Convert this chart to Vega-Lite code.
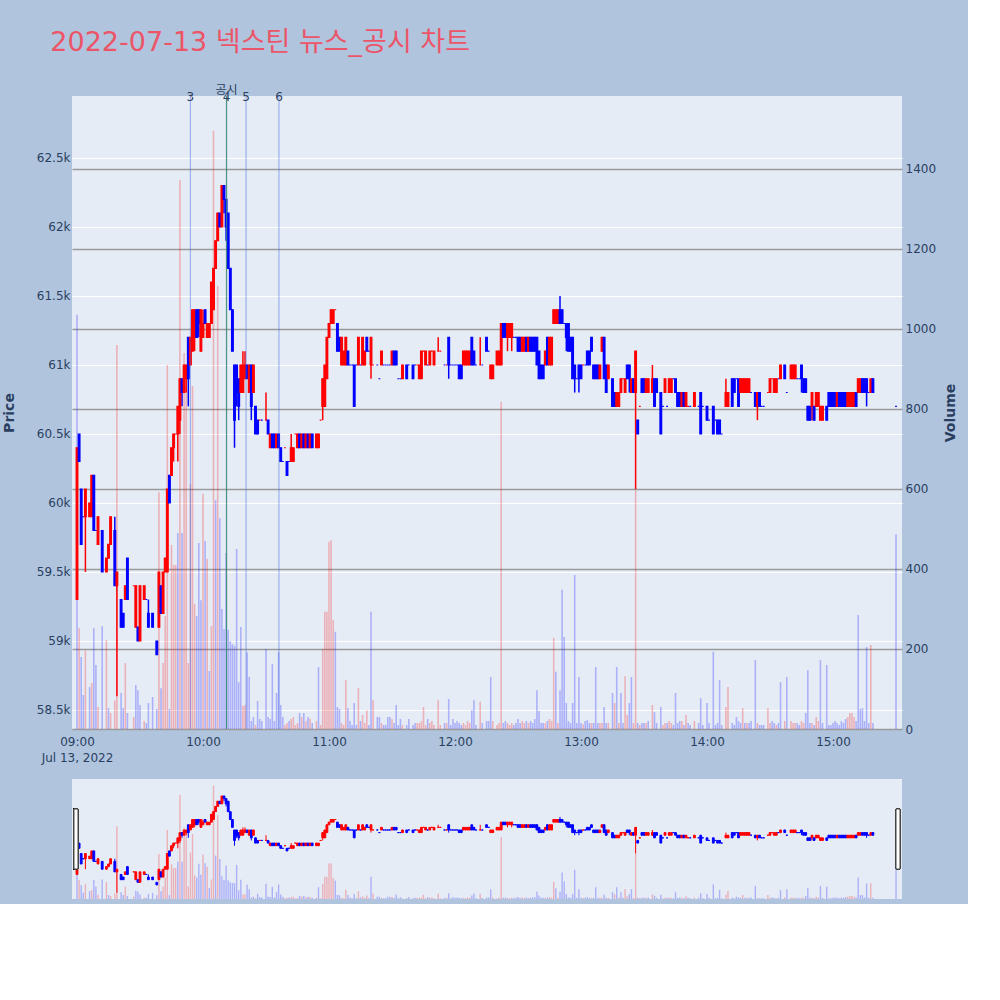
{
"$schema": "https://vega.github.io/schema/vega-lite/v6.json",
"background": "#b0c4de",
"padding": {"left": 2, "top": 29, "right": 10, "bottom": 5},
"autosize": {"type": "pad"},
"title": {"text": "2022-07-13 넥스틴 뉴스_공시 차트", "anchor": "start", "font": "DejaVu Sans, Noto Sans CJK KR", "fontSize": 27, "fontWeight": "normal", "color": "#ec5468", "offset": 27, "dx": 48},
"config": {"view": {"stroke": null, "fill": "#e5ecf6"}, "font": "DejaVu Sans"},
"datasets": {"c": [
{"t":"2022-07-13T09:00","o":59300,"h":60400,"l":59300,"c":60400,"v":1035,"vd":"d"},
{"t":"2022-07-13T09:01","o":60500,"h":60500,"l":60300,"c":60300,"v":252,"vd":"u"},
{"t":"2022-07-13T09:02","o":60100,"h":60100,"l":59700,"c":59700,"v":180},
{"t":"2022-07-13T09:03","o":59900,"h":59900,"l":59900,"c":59900,"v":85,"d":"d"},
{"t":"2022-07-13T09:04","o":59900,"h":60100,"l":59500,"c":60100,"v":197},
{"t":"2022-07-13T09:06","o":59900,"h":60000,"l":59900,"c":60000,"v":105,"vd":"d"},
{"t":"2022-07-13T09:07","o":59900,"h":60200,"l":59900,"c":60200,"v":115},
{"t":"2022-07-13T09:08","o":60200,"h":60200,"l":59800,"c":59800,"v":252},
{"t":"2022-07-13T09:09","o":59800,"h":59800,"l":59800,"c":59800,"v":160,"d":"d"},
{"t":"2022-07-13T09:10","o":59700,"h":59900,"l":59700,"c":59900,"v":55},
{"t":"2022-07-13T09:12","o":59800,"h":59800,"l":59500,"c":59500,"v":257},
{"t":"2022-07-13T09:14","o":59500,"h":59600,"l":59500,"c":59600,"v":222},
{"t":"2022-07-13T09:15","o":59600,"h":59700,"l":59600,"c":59700,"v":52,"vd":"d"},
{"t":"2022-07-13T09:16","o":59700,"h":59900,"l":59700,"c":59900,"v":40},
{"t":"2022-07-13T09:18","o":59800,"h":59900,"l":59400,"c":59400,"v":72,"vd":"u"},
{"t":"2022-07-13T09:19","o":59400,"h":59500,"l":58600,"c":59500,"v":960},
{"t":"2022-07-13T09:21","o":59300,"h":59300,"l":59100,"c":59100,"v":90},
{"t":"2022-07-13T09:22","o":59200,"h":59200,"l":59100,"c":59100,"v":52},
{"t":"2022-07-13T09:23","o":59300,"h":59400,"l":59300,"c":59400,"v":165},
{"t":"2022-07-13T09:24","o":59600,"h":59600,"l":59300,"c":59300,"v":40},
{"t":"2022-07-13T09:27","o":59400,"h":59400,"l":59400,"c":59400,"v":30,"d":"u"},
{"t":"2022-07-13T09:28","o":59100,"h":59400,"l":59100,"c":59400,"v":110,"vd":"d"},
{"t":"2022-07-13T09:29","o":59100,"h":59100,"l":59000,"c":59000,"v":97},
{"t":"2022-07-13T09:30","o":59000,"h":59400,"l":59000,"c":59400,"v":60,"vd":"d"},
{"t":"2022-07-13T09:32","o":59300,"h":59400,"l":59300,"c":59400,"v":20},
{"t":"2022-07-13T09:33","o":59300,"h":59300,"l":59300,"c":59300,"v":15,"d":"d"},
{"t":"2022-07-13T09:34","o":59200,"h":59300,"l":59100,"c":59100,"v":65},
{"t":"2022-07-13T09:36","o":59200,"h":59200,"l":59100,"c":59100,"v":80},
{"t":"2022-07-13T09:38","o":59000,"h":59000,"l":58900,"c":58900,"v":50},
{"t":"2022-07-13T09:39","o":59100,"h":59500,"l":59100,"c":59500,"v":592},
{"t":"2022-07-13T09:40","o":59400,"h":59400,"l":59200,"c":59200,"v":102},
{"t":"2022-07-13T09:41","o":59200,"h":59500,"l":59200,"c":59500,"v":165},
{"t":"2022-07-13T09:42","o":59500,"h":59600,"l":59500,"c":59600,"v":282},
{"t":"2022-07-13T09:43","o":59500,"h":60100,"l":59500,"c":60100,"v":910},
{"t":"2022-07-13T09:44","o":60200,"h":60200,"l":60000,"c":60000,"v":50},
{"t":"2022-07-13T09:45","o":60200,"h":60400,"l":60200,"c":60400,"v":460},
{"t":"2022-07-13T09:46","o":60400,"h":60500,"l":60300,"c":60500,"v":410},
{"t":"2022-07-13T09:47","o":60500,"h":60500,"l":60500,"c":60500,"v":410,"d":"u"},
{"t":"2022-07-13T09:48","o":60500,"h":60700,"l":60300,"c":60700,"v":490,"vd":"d"},
{"t":"2022-07-13T09:49","o":60600,"h":60900,"l":60500,"c":60900,"v":1372},
{"t":"2022-07-13T09:50","o":60900,"h":60900,"l":60700,"c":60800,"v":490},
{"t":"2022-07-13T09:51","o":60800,"h":61000,"l":60800,"c":61000,"v":940},
{"t":"2022-07-13T09:52","o":60900,"h":61000,"l":60800,"c":61000,"v":857},
{"t":"2022-07-13T09:53","o":61200,"h":61200,"l":60700,"c":60900,"v":165,"vd":"u"},
{"t":"2022-07-13T09:54","o":61000,"h":61200,"l":61000,"c":61200,"v":612},
{"t":"2022-07-13T09:55","o":61100,"h":61400,"l":61100,"c":61400,"v":857},
{"t":"2022-07-13T09:56","o":61200,"h":61400,"l":61100,"c":61400,"v":312},
{"t":"2022-07-13T09:57","o":61400,"h":61400,"l":61200,"c":61200,"v":282},
{"t":"2022-07-13T09:58","o":61400,"h":61400,"l":61200,"c":61300,"v":465},
{"t":"2022-07-13T09:59","o":61100,"h":61400,"l":61100,"c":61400,"v":322,"vd":"d"},
{"t":"2022-07-13T10:00","o":61200,"h":61400,"l":61200,"c":61300,"v":588},
{"t":"2022-07-13T10:01","o":61400,"h":61400,"l":61300,"c":61300,"v":470},
{"t":"2022-07-13T10:02","o":61200,"h":61300,"l":61200,"c":61300,"v":425},
{"t":"2022-07-13T10:03","o":61200,"h":61300,"l":61200,"c":61300,"v":145,"vd":"d"},
{"t":"2022-07-13T10:04","o":61300,"h":61600,"l":61300,"c":61600,"v":257},
{"t":"2022-07-13T10:05","o":61400,"h":61700,"l":61400,"c":61700,"v":1495},
{"t":"2022-07-13T10:06","o":61700,"h":61900,"l":61700,"c":61900,"v":572,"vd":"d"},
{"t":"2022-07-13T10:07","o":61900,"h":62100,"l":61900,"c":62100,"v":1107},
{"t":"2022-07-13T10:08","o":62100,"h":62100,"l":62000,"c":62000,"v":527},
{"t":"2022-07-13T10:09","o":62000,"h":62300,"l":62000,"c":62300,"v":300,"vd":"d"},
{"t":"2022-07-13T10:10","o":62300,"h":62300,"l":62100,"c":62200,"v":250},
{"t":"2022-07-13T10:11","o":62200,"h":62200,"l":61900,"c":62000,"v":440},
{"t":"2022-07-13T10:12","o":62100,"h":62100,"l":61700,"c":61700,"v":248},
{"t":"2022-07-13T10:13","o":61700,"h":61700,"l":61400,"c":61400,"v":220},
{"t":"2022-07-13T10:14","o":61400,"h":61400,"l":61100,"c":61100,"v":212},
{"t":"2022-07-13T10:15","o":61000,"h":61000,"l":60400,"c":60600,"v":208},
{"t":"2022-07-13T10:16","o":61000,"h":61000,"l":60700,"c":60800,"v":450},
{"t":"2022-07-13T10:17","o":60900,"h":60900,"l":60600,"c":60700,"v":117},
{"t":"2022-07-13T10:18","o":60800,"h":61000,"l":60800,"c":61000,"v":255,"vd":"d"},
{"t":"2022-07-13T10:19","o":60800,"h":61100,"l":60800,"c":61000,"v":58},
{"t":"2022-07-13T10:20","o":60900,"h":61100,"l":60900,"c":61000,"v":60},
{"t":"2022-07-13T10:21","o":61000,"h":61000,"l":60900,"c":60900,"v":192},
{"t":"2022-07-13T10:22","o":60800,"h":61000,"l":60800,"c":61000,"v":130,"vd":"d"},
{"t":"2022-07-13T10:23","o":61000,"h":61000,"l":60600,"c":60700,"v":20},
{"t":"2022-07-13T10:24","o":60800,"h":61000,"l":60800,"c":61000,"v":30,"vd":"d"},
{"t":"2022-07-13T10:25","o":60700,"h":60700,"l":60500,"c":60500,"v":10,"vd":"u"},
{"t":"2022-07-13T10:26","o":60600,"h":60600,"l":60500,"c":60500,"v":70},
{"t":"2022-07-13T10:27","o":60600,"h":60600,"l":60600,"c":60600,"v":25,"d":"u","vd":"d"},
{"t":"2022-07-13T10:28","o":60600,"h":60600,"l":60600,"c":60600,"v":20,"d":"d"},
{"t":"2022-07-13T10:30","o":60600,"h":60800,"l":60600,"c":60600,"v":200,"d":"u","vd":"d"},
{"t":"2022-07-13T10:31","o":60600,"h":60600,"l":60500,"c":60500,"v":30},
{"t":"2022-07-13T10:32","o":60400,"h":60500,"l":60400,"c":60500,"v":25,"vd":"d"},
{"t":"2022-07-13T10:33","o":60500,"h":60500,"l":60400,"c":60400,"v":162},
{"t":"2022-07-13T10:34","o":60500,"h":60500,"l":60400,"c":60400,"v":20},
{"t":"2022-07-13T10:35","o":60400,"h":60500,"l":60400,"c":60500,"v":90,"vd":"d"},
{"t":"2022-07-13T10:36","o":60500,"h":60500,"l":60400,"c":60400,"v":192},
{"t":"2022-07-13T10:37","o":60400,"h":60400,"l":60300,"c":60300,"v":60},
{"t":"2022-07-13T10:38","o":60300,"h":60300,"l":60300,"c":60300,"v":30,"d":"d"},
{"t":"2022-07-13T10:39","o":60400,"h":60400,"l":60400,"c":60400,"v":10,"d":"u"},
{"t":"2022-07-13T10:40","o":60300,"h":60300,"l":60200,"c":60200,"v":15,"vd":"u"},
{"t":"2022-07-13T10:41","o":60300,"h":60300,"l":60300,"c":60300,"v":20,"d":"d"},
{"t":"2022-07-13T10:42","o":60300,"h":60500,"l":60300,"c":60400,"v":25},
{"t":"2022-07-13T10:43","o":60300,"h":60400,"l":60300,"c":60400,"v":30},
{"t":"2022-07-13T10:44","o":60500,"h":60500,"l":60500,"c":60500,"v":10,"d":"u"},
{"t":"2022-07-13T10:45","o":60400,"h":60500,"l":60400,"c":60500,"v":15},
{"t":"2022-07-13T10:46","o":60500,"h":60500,"l":60400,"c":60400,"v":40},
{"t":"2022-07-13T10:47","o":60400,"h":60500,"l":60400,"c":60500,"v":30},
{"t":"2022-07-13T10:48","o":60500,"h":60500,"l":60400,"c":60400,"v":40},
{"t":"2022-07-13T10:49","o":60400,"h":60500,"l":60400,"c":60500,"v":20},
{"t":"2022-07-13T10:50","o":60500,"h":60500,"l":60400,"c":60400,"v":30},
{"t":"2022-07-13T10:51","o":60400,"h":60500,"l":60400,"c":60500,"v":25},
{"t":"2022-07-13T10:52","o":60500,"h":60500,"l":60400,"c":60400,"v":15},
{"t":"2022-07-13T10:54","o":60400,"h":60500,"l":60400,"c":60500,"v":20},
{"t":"2022-07-13T10:55","o":60400,"h":60500,"l":60400,"c":60500,"v":155,"vd":"d"},
{"t":"2022-07-13T10:56","o":60600,"h":60600,"l":60600,"c":60600,"v":10,"d":"u"},
{"t":"2022-07-13T10:57","o":60700,"h":60900,"l":60600,"c":60900,"v":200},
{"t":"2022-07-13T10:58","o":60700,"h":61000,"l":60700,"c":61000,"v":293},
{"t":"2022-07-13T10:59","o":60900,"h":61200,"l":60900,"c":61200,"v":293},
{"t":"2022-07-13T11:00","o":61200,"h":61300,"l":61200,"c":61300,"v":468},
{"t":"2022-07-13T11:01","o":61300,"h":61400,"l":61300,"c":61400,"v":472},
{"t":"2022-07-13T11:02","o":61300,"h":61400,"l":61300,"c":61400,"v":272},
{"t":"2022-07-13T11:03","o":61400,"h":61400,"l":61400,"c":61400,"v":243,"d":"u","vd":"d"},
{"t":"2022-07-13T11:04","o":61300,"h":61300,"l":61100,"c":61100,"v":55},
{"t":"2022-07-13T11:05","o":61200,"h":61200,"l":61100,"c":61100,"v":50},
{"t":"2022-07-13T11:06","o":61000,"h":61200,"l":61000,"c":61200,"v":15},
{"t":"2022-07-13T11:07","o":61000,"h":61100,"l":61000,"c":61100,"v":10},
{"t":"2022-07-13T11:08","o":61000,"h":61200,"l":61000,"c":61200,"v":122},
{"t":"2022-07-13T11:09","o":61100,"h":61100,"l":61000,"c":61000,"v":52},
{"t":"2022-07-13T11:10","o":61000,"h":61000,"l":61000,"c":61000,"v":20,"d":"d"},
{"t":"2022-07-13T11:11","o":61000,"h":61000,"l":61000,"c":61000,"v":10,"d":"d"},
{"t":"2022-07-13T11:12","o":61000,"h":61000,"l":60700,"c":60700,"v":65},
{"t":"2022-07-13T11:13","o":61000,"h":61000,"l":61000,"c":61000,"v":10,"d":"d"},
{"t":"2022-07-13T11:14","o":61000,"h":61200,"l":61000,"c":61200,"v":102},
{"t":"2022-07-13T11:15","o":61000,"h":61000,"l":61000,"c":61000,"v":20,"d":"d"},
{"t":"2022-07-13T11:16","o":61000,"h":61200,"l":61000,"c":61200,"v":35},
{"t":"2022-07-13T11:17","o":61000,"h":61100,"l":61000,"c":61100,"v":15},
{"t":"2022-07-13T11:18","o":61200,"h":61200,"l":61100,"c":61100,"v":47,"vd":"u"},
{"t":"2022-07-13T11:19","o":61100,"h":61100,"l":61100,"c":61100,"v":10,"d":"d"},
{"t":"2022-07-13T11:20","o":61000,"h":61200,"l":60900,"c":61200,"v":293,"vd":"d"},
{"t":"2022-07-13T11:21","o":61000,"h":61000,"l":61000,"c":61000,"v":72,"d":"u"},
{"t":"2022-07-13T11:23","o":61000,"h":61000,"l":61000,"c":61000,"v":30,"d":"d"},
{"t":"2022-07-13T11:24","o":60900,"h":60900,"l":60900,"c":60900,"v":30,"d":"d"},
{"t":"2022-07-13T11:25","o":61000,"h":61100,"l":61000,"c":61100,"v":15},
{"t":"2022-07-13T11:26","o":61000,"h":61000,"l":61000,"c":61000,"v":10,"d":"d"},
{"t":"2022-07-13T11:27","o":61000,"h":61000,"l":61000,"c":61000,"v":10,"d":"d"},
{"t":"2022-07-13T11:28","o":61000,"h":61000,"l":61000,"c":61000,"v":30,"d":"d"},
{"t":"2022-07-13T11:29","o":61000,"h":61000,"l":61000,"c":61000,"v":30,"d":"d"},
{"t":"2022-07-13T11:30","o":61000,"h":61100,"l":61000,"c":61100,"v":25},
{"t":"2022-07-13T11:31","o":61100,"h":61100,"l":61000,"c":61000,"v":15},
{"t":"2022-07-13T11:32","o":61100,"h":61100,"l":61000,"c":61000,"v":60},
{"t":"2022-07-13T11:33","o":60900,"h":60900,"l":60900,"c":60900,"v":10,"d":"d"},
{"t":"2022-07-13T11:34","o":60900,"h":60900,"l":60900,"c":60900,"v":25,"d":"d"},
{"t":"2022-07-13T11:35","o":60900,"h":61000,"l":60900,"c":61000,"v":10},
{"t":"2022-07-13T11:37","o":61000,"h":61000,"l":60900,"c":60900,"v":10},
{"t":"2022-07-13T11:38","o":61000,"h":61000,"l":61000,"c":61000,"v":25,"d":"d"},
{"t":"2022-07-13T11:40","o":61000,"h":61000,"l":60900,"c":60900,"v":10},
{"t":"2022-07-13T11:41","o":61000,"h":61000,"l":61000,"c":61000,"v":15,"d":"d"},
{"t":"2022-07-13T11:42","o":61000,"h":61000,"l":61000,"c":61000,"v":15,"d":"u"},
{"t":"2022-07-13T11:43","o":60900,"h":61000,"l":60900,"c":61000,"v":15},
{"t":"2022-07-13T11:44","o":60900,"h":61100,"l":60900,"c":61100,"v":20},
{"t":"2022-07-13T11:45","o":61100,"h":61100,"l":61100,"c":61100,"v":55,"d":"u"},
{"t":"2022-07-13T11:46","o":61000,"h":61100,"l":61000,"c":61100,"v":10},
{"t":"2022-07-13T11:47","o":61000,"h":61000,"l":61000,"c":61000,"v":25,"d":"d"},
{"t":"2022-07-13T11:48","o":61000,"h":61100,"l":61000,"c":61100,"v":15},
{"t":"2022-07-13T11:49","o":61100,"h":61100,"l":61100,"c":61100,"v":20,"d":"u"},
{"t":"2022-07-13T11:50","o":61000,"h":61100,"l":61000,"c":61100,"v":10},
{"t":"2022-07-13T11:52","o":61100,"h":61200,"l":61100,"c":61100,"v":72,"d":"u"},
{"t":"2022-07-13T11:53","o":61100,"h":61100,"l":61100,"c":61100,"v":10,"d":"u"},
{"t":"2022-07-13T11:55","o":61000,"h":61000,"l":61000,"c":61000,"v":15,"d":"d"},
{"t":"2022-07-13T11:56","o":61000,"h":61000,"l":61000,"c":61000,"v":15,"d":"u"},
{"t":"2022-07-13T11:57","o":61200,"h":61200,"l":60900,"c":61000,"v":75},
{"t":"2022-07-13T11:58","o":61000,"h":61000,"l":61000,"c":61000,"v":10,"d":"d"},
{"t":"2022-07-13T11:59","o":61000,"h":61000,"l":61000,"c":61000,"v":25,"d":"d"},
{"t":"2022-07-13T12:00","o":61000,"h":61000,"l":61000,"c":61000,"v":15,"d":"d"},
{"t":"2022-07-13T12:01","o":61000,"h":61000,"l":61000,"c":61000,"v":20,"d":"d"},
{"t":"2022-07-13T12:02","o":61000,"h":61000,"l":60900,"c":60900,"v":15},
{"t":"2022-07-13T12:03","o":61000,"h":61000,"l":60900,"c":60900,"v":10},
{"t":"2022-07-13T12:04","o":61000,"h":61100,"l":61000,"c":61100,"v":15},
{"t":"2022-07-13T12:05","o":61000,"h":61100,"l":61000,"c":61100,"v":10},
{"t":"2022-07-13T12:06","o":61000,"h":61100,"l":61000,"c":61100,"v":20},
{"t":"2022-07-13T12:07","o":61000,"h":61100,"l":61000,"c":61100,"v":15},
{"t":"2022-07-13T12:08","o":61200,"h":61200,"l":61000,"c":61000,"v":47},
{"t":"2022-07-13T12:09","o":61100,"h":61100,"l":61000,"c":61000,"v":72},
{"t":"2022-07-13T12:10","o":61000,"h":61000,"l":61000,"c":61000,"v":10,"d":"d"},
{"t":"2022-07-13T12:12","o":61000,"h":61200,"l":61000,"c":61000,"v":68,"d":"u"},
{"t":"2022-07-13T12:13","o":61000,"h":61000,"l":61000,"c":61000,"v":15,"d":"d"},
{"t":"2022-07-13T12:15","o":61200,"h":61200,"l":61100,"c":61100,"v":20},
{"t":"2022-07-13T12:16","o":61100,"h":61100,"l":61100,"c":61100,"v":20,"d":"d"},
{"t":"2022-07-13T12:17","o":60900,"h":61000,"l":60900,"c":61000,"v":130,"vd":"d"},
{"t":"2022-07-13T12:18","o":60900,"h":61000,"l":60900,"c":61000,"v":20},
{"t":"2022-07-13T12:20","o":61000,"h":61100,"l":61000,"c":61100,"v":10},
{"t":"2022-07-13T12:21","o":61000,"h":61100,"l":61000,"c":61100,"v":15},
{"t":"2022-07-13T12:22","o":61000,"h":61300,"l":61000,"c":61300,"v":818},
{"t":"2022-07-13T12:23","o":61300,"h":61300,"l":61200,"c":61200,"v":15},
{"t":"2022-07-13T12:24","o":61300,"h":61300,"l":61200,"c":61200,"v":20},
{"t":"2022-07-13T12:25","o":61200,"h":61300,"l":61100,"c":61300,"v":15},
{"t":"2022-07-13T12:26","o":61200,"h":61300,"l":61200,"c":61300,"v":10},
{"t":"2022-07-13T12:27","o":61200,"h":61300,"l":61100,"c":61300,"v":15},
{"t":"2022-07-13T12:28","o":61200,"h":61200,"l":61200,"c":61200,"v":10,"d":"d"},
{"t":"2022-07-13T12:29","o":61200,"h":61200,"l":61200,"c":61200,"v":15,"d":"d"},
{"t":"2022-07-13T12:30","o":61200,"h":61200,"l":61100,"c":61100,"v":25},
{"t":"2022-07-13T12:31","o":61200,"h":61200,"l":61100,"c":61100,"v":15},
{"t":"2022-07-13T12:32","o":61100,"h":61200,"l":61100,"c":61200,"v":20},
{"t":"2022-07-13T12:33","o":61100,"h":61200,"l":61100,"c":61200,"v":15},
{"t":"2022-07-13T12:34","o":61200,"h":61200,"l":61100,"c":61100,"v":20},
{"t":"2022-07-13T12:35","o":61100,"h":61200,"l":61100,"c":61200,"v":15},
{"t":"2022-07-13T12:36","o":61200,"h":61200,"l":61100,"c":61100,"v":20},
{"t":"2022-07-13T12:37","o":61200,"h":61200,"l":61100,"c":61100,"v":15},
{"t":"2022-07-13T12:38","o":61200,"h":61200,"l":61100,"c":61100,"v":25},
{"t":"2022-07-13T12:39","o":61200,"h":61200,"l":61000,"c":61000,"v":97},
{"t":"2022-07-13T12:40","o":61100,"h":61100,"l":60900,"c":60900,"v":45},
{"t":"2022-07-13T12:41","o":61000,"h":61000,"l":60900,"c":60900,"v":15},
{"t":"2022-07-13T12:42","o":61000,"h":61000,"l":60900,"c":60900,"v":15},
{"t":"2022-07-13T12:43","o":61000,"h":61100,"l":61000,"c":61100,"v":15},
{"t":"2022-07-13T12:44","o":61200,"h":61200,"l":61000,"c":61000,"v":20},
{"t":"2022-07-13T12:45","o":61000,"h":61200,"l":61000,"c":61200,"v":25},
{"t":"2022-07-13T12:46","o":61000,"h":61200,"l":61000,"c":61200,"v":20},
{"t":"2022-07-13T12:47","o":61300,"h":61400,"l":61300,"c":61400,"v":228},
{"t":"2022-07-13T12:48","o":61300,"h":61400,"l":61300,"c":61400,"v":143,"vd":"d"},
{"t":"2022-07-13T12:49","o":61300,"h":61400,"l":61300,"c":61400,"v":15},
{"t":"2022-07-13T12:50","o":61400,"h":61500,"l":61300,"c":61300,"v":97},
{"t":"2022-07-13T12:51","o":61400,"h":61400,"l":61300,"c":61300,"v":348},
{"t":"2022-07-13T12:52","o":61300,"h":61300,"l":61300,"c":61300,"v":230,"d":"d"},
{"t":"2022-07-13T12:53","o":61300,"h":61300,"l":61100,"c":61200,"v":65},
{"t":"2022-07-13T12:54","o":61300,"h":61300,"l":61100,"c":61100,"v":20},
{"t":"2022-07-13T12:55","o":61200,"h":61200,"l":61100,"c":61100,"v":15},
{"t":"2022-07-13T12:56","o":61200,"h":61200,"l":60900,"c":60900,"v":65},
{"t":"2022-07-13T12:57","o":61000,"h":61000,"l":60800,"c":60900,"v":385},
{"t":"2022-07-13T12:58","o":60900,"h":60900,"l":60900,"c":60900,"v":15,"d":"d"},
{"t":"2022-07-13T12:59","o":61000,"h":61000,"l":60800,"c":60900,"v":130},
{"t":"2022-07-13T13:00","o":61000,"h":61000,"l":60900,"c":60900,"v":15},
{"t":"2022-07-13T13:01","o":61000,"h":61000,"l":61000,"c":61000,"v":12,"d":"u"},
{"t":"2022-07-13T13:02","o":61000,"h":61000,"l":61000,"c":61000,"v":20,"d":"d"},
{"t":"2022-07-13T13:03","o":61100,"h":61100,"l":61000,"c":61000,"v":22},
{"t":"2022-07-13T13:04","o":61100,"h":61100,"l":61000,"c":61000,"v":15},
{"t":"2022-07-13T13:05","o":61200,"h":61200,"l":61100,"c":61100,"v":15,"vd":"u"},
{"t":"2022-07-13T13:06","o":61000,"h":61000,"l":60900,"c":60900,"v":15},
{"t":"2022-07-13T13:07","o":61000,"h":61000,"l":60900,"c":60900,"v":155},
{"t":"2022-07-13T13:08","o":61000,"h":61000,"l":60900,"c":60900,"v":15},
{"t":"2022-07-13T13:09","o":60900,"h":61000,"l":60900,"c":61000,"v":15},
{"t":"2022-07-13T13:10","o":61100,"h":61200,"l":61100,"c":61200,"v":15},
{"t":"2022-07-13T13:11","o":61200,"h":61200,"l":60900,"c":60900,"v":55},
{"t":"2022-07-13T13:12","o":61000,"h":61000,"l":60800,"c":60800,"v":15},
{"t":"2022-07-13T13:13","o":60900,"h":61000,"l":60900,"c":61000,"v":15},
{"t":"2022-07-13T13:15","o":60900,"h":60900,"l":60700,"c":60700,"v":90},
{"t":"2022-07-13T13:16","o":60800,"h":60800,"l":60700,"c":60700,"v":65,"vd":"u"},
{"t":"2022-07-13T13:17","o":60700,"h":60800,"l":60700,"c":60800,"v":155,"vd":"d"},
{"t":"2022-07-13T13:18","o":60700,"h":60800,"l":60700,"c":60800,"v":15},
{"t":"2022-07-13T13:19","o":60800,"h":60900,"l":60800,"c":60900,"v":90,"vd":"d"},
{"t":"2022-07-13T13:20","o":60900,"h":60900,"l":60900,"c":60900,"v":15,"d":"u","vd":"d"},
{"t":"2022-07-13T13:21","o":60800,"h":60900,"l":60800,"c":60900,"v":132},
{"t":"2022-07-13T13:22","o":61000,"h":61000,"l":60900,"c":60900,"v":35,"vd":"u"},
{"t":"2022-07-13T13:23","o":61000,"h":61000,"l":60800,"c":60900,"v":65},
{"t":"2022-07-13T13:24","o":60800,"h":60900,"l":60800,"c":60900,"v":130,"vd":"d"},
{"t":"2022-07-13T13:25","o":60900,"h":60900,"l":60800,"c":60800,"v":15,"vd":"u"},
{"t":"2022-07-13T13:26","o":60800,"h":61100,"l":60100,"c":61100,"v":598},
{"t":"2022-07-13T13:27","o":60600,"h":60600,"l":60500,"c":60500,"v":15},
{"t":"2022-07-13T13:28","o":60700,"h":60700,"l":60700,"c":60700,"v":10,"d":"u"},
{"t":"2022-07-13T13:29","o":60900,"h":60900,"l":60800,"c":60800,"v":15},
{"t":"2022-07-13T13:30","o":60900,"h":60900,"l":60800,"c":60800,"v":15},
{"t":"2022-07-13T13:31","o":60800,"h":60900,"l":60800,"c":60900,"v":15},
{"t":"2022-07-13T13:32","o":60800,"h":60900,"l":60800,"c":60900,"v":20,"vd":"d"},
{"t":"2022-07-13T13:34","o":60800,"h":61000,"l":60800,"c":60900,"v":60},
{"t":"2022-07-13T13:35","o":60900,"h":60900,"l":60700,"c":60700,"v":42},
{"t":"2022-07-13T13:36","o":60900,"h":60900,"l":60800,"c":60800,"v":15},
{"t":"2022-07-13T13:38","o":60800,"h":60800,"l":60500,"c":60500,"v":55},
{"t":"2022-07-13T13:39","o":60700,"h":60700,"l":60700,"c":60700,"v":10,"d":"d","vd":"u"},
{"t":"2022-07-13T13:40","o":60800,"h":60900,"l":60800,"c":60900,"v":15},
{"t":"2022-07-13T13:41","o":60700,"h":60700,"l":60700,"c":60700,"v":15,"d":"d"},
{"t":"2022-07-13T13:42","o":60800,"h":60900,"l":60800,"c":60900,"v":20},
{"t":"2022-07-13T13:43","o":60800,"h":60900,"l":60800,"c":60900,"v":15},
{"t":"2022-07-13T13:44","o":60900,"h":60900,"l":60900,"c":60900,"v":10,"d":"d"},
{"t":"2022-07-13T13:45","o":60900,"h":60900,"l":60800,"c":60800,"v":90},
{"t":"2022-07-13T13:46","o":60800,"h":60800,"l":60700,"c":60700,"v":15},
{"t":"2022-07-13T13:47","o":60800,"h":60800,"l":60700,"c":60700,"v":20},
{"t":"2022-07-13T13:48","o":60700,"h":60800,"l":60700,"c":60800,"v":20},
{"t":"2022-07-13T13:49","o":60800,"h":60800,"l":60700,"c":60700,"v":10},
{"t":"2022-07-13T13:50","o":60700,"h":60800,"l":60700,"c":60800,"v":35},
{"t":"2022-07-13T13:51","o":60700,"h":60700,"l":60700,"c":60700,"v":15,"d":"u","vd":"d"},
{"t":"2022-07-13T13:52","o":60700,"h":60700,"l":60700,"c":60700,"v":10,"d":"d"},
{"t":"2022-07-13T13:54","o":60700,"h":60800,"l":60700,"c":60800,"v":20},
{"t":"2022-07-13T13:56","o":60700,"h":60700,"l":60700,"c":60700,"v":15,"d":"d"},
{"t":"2022-07-13T13:57","o":60800,"h":60800,"l":60500,"c":60500,"v":77},
{"t":"2022-07-13T13:58","o":60700,"h":60700,"l":60700,"c":60700,"v":10,"d":"d"},
{"t":"2022-07-13T14:00","o":60700,"h":60700,"l":60600,"c":60600,"v":65},
{"t":"2022-07-13T14:01","o":60600,"h":60600,"l":60600,"c":60600,"v":15,"d":"d"},
{"t":"2022-07-13T14:03","o":60700,"h":60700,"l":60500,"c":60500,"v":193},
{"t":"2022-07-13T14:04","o":60600,"h":60600,"l":60600,"c":60600,"v":10,"d":"d"},
{"t":"2022-07-13T14:05","o":60600,"h":60600,"l":60500,"c":60500,"v":15},
{"t":"2022-07-13T14:06","o":60600,"h":60600,"l":60500,"c":60500,"v":122},
{"t":"2022-07-13T14:07","o":60500,"h":60500,"l":60500,"c":60500,"v":10,"d":"d"},
{"t":"2022-07-13T14:09","o":60700,"h":60900,"l":60700,"c":60800,"v":55},
{"t":"2022-07-13T14:10","o":60700,"h":60800,"l":60700,"c":60800,"v":105},
{"t":"2022-07-13T14:12","o":60900,"h":60900,"l":60700,"c":60700,"v":15},
{"t":"2022-07-13T14:13","o":60900,"h":60900,"l":60800,"c":60800,"v":10},
{"t":"2022-07-13T14:14","o":60900,"h":60900,"l":60900,"c":60900,"v":30,"d":"d"},
{"t":"2022-07-13T14:15","o":60900,"h":60900,"l":60700,"c":60700,"v":20},
{"t":"2022-07-13T14:16","o":60800,"h":60900,"l":60800,"c":60900,"v":15,"vd":"d"},
{"t":"2022-07-13T14:17","o":60800,"h":60900,"l":60800,"c":60900,"v":52},
{"t":"2022-07-13T14:18","o":60800,"h":60900,"l":60800,"c":60900,"v":15,"vd":"d"},
{"t":"2022-07-13T14:19","o":60800,"h":60900,"l":60800,"c":60900,"v":15},
{"t":"2022-07-13T14:20","o":60800,"h":60900,"l":60800,"c":60900,"v":15,"vd":"d"},
{"t":"2022-07-13T14:21","o":60800,"h":60800,"l":60800,"c":60800,"v":20,"d":"d"},
{"t":"2022-07-13T14:23","o":60800,"h":60800,"l":60700,"c":60700,"v":172},
{"t":"2022-07-13T14:24","o":60700,"h":60800,"l":60600,"c":60800,"v":15},
{"t":"2022-07-13T14:25","o":60800,"h":60800,"l":60700,"c":60700,"v":10},
{"t":"2022-07-13T14:26","o":60700,"h":60700,"l":60700,"c":60700,"v":10,"d":"d"},
{"t":"2022-07-13T14:27","o":60700,"h":60700,"l":60700,"c":60700,"v":10,"d":"d"},
{"t":"2022-07-13T14:29","o":60800,"h":60800,"l":60800,"c":60800,"v":52,"d":"u"},
{"t":"2022-07-13T14:30","o":60800,"h":60900,"l":60800,"c":60900,"v":15},
{"t":"2022-07-13T14:31","o":60900,"h":60900,"l":60900,"c":60900,"v":20,"d":"u","vd":"d"},
{"t":"2022-07-13T14:32","o":60800,"h":60900,"l":60800,"c":60900,"v":15,"vd":"d"},
{"t":"2022-07-13T14:33","o":60800,"h":60900,"l":60800,"c":60900,"v":10},
{"t":"2022-07-13T14:34","o":60900,"h":60900,"l":60900,"c":60900,"v":15,"d":"d"},
{"t":"2022-07-13T14:35","o":60900,"h":61000,"l":60900,"c":61000,"v":117,"vd":"d"},
{"t":"2022-07-13T14:37","o":61000,"h":61000,"l":60900,"c":60900,"v":20,"vd":"u"},
{"t":"2022-07-13T14:38","o":60800,"h":60800,"l":60800,"c":60800,"v":130,"d":"d"},
{"t":"2022-07-13T14:40","o":60900,"h":61000,"l":60900,"c":61000,"v":20},
{"t":"2022-07-13T14:41","o":60900,"h":61000,"l":60900,"c":61000,"v":15},
{"t":"2022-07-13T14:42","o":60900,"h":61000,"l":60900,"c":61000,"v":15},
{"t":"2022-07-13T14:43","o":60900,"h":60900,"l":60900,"c":60900,"v":15,"d":"d"},
{"t":"2022-07-13T14:44","o":60900,"h":60900,"l":60900,"c":60900,"v":10,"d":"d"},
{"t":"2022-07-13T14:45","o":61000,"h":61000,"l":60800,"c":60900,"v":20,"vd":"u"},
{"t":"2022-07-13T14:46","o":60900,"h":60900,"l":60800,"c":60800,"v":15,"vd":"u"},
{"t":"2022-07-13T14:47","o":60900,"h":60900,"l":60800,"c":60800,"v":40},
{"t":"2022-07-13T14:48","o":60700,"h":60700,"l":60600,"c":60600,"v":147},
{"t":"2022-07-13T14:49","o":60700,"h":60700,"l":60600,"c":60600,"v":15},
{"t":"2022-07-13T14:50","o":60700,"h":60800,"l":60600,"c":60800,"v":15},
{"t":"2022-07-13T14:51","o":60700,"h":60700,"l":60600,"c":60600,"v":10},
{"t":"2022-07-13T14:52","o":60700,"h":60800,"l":60700,"c":60800,"v":30},
{"t":"2022-07-13T14:53","o":60700,"h":60800,"l":60700,"c":60800,"v":20},
{"t":"2022-07-13T14:54","o":60600,"h":60700,"l":60600,"c":60700,"v":172,"vd":"d"},
{"t":"2022-07-13T14:55","o":60600,"h":60700,"l":60600,"c":60700,"v":15,"vd":"d"},
{"t":"2022-07-13T14:57","o":60700,"h":60700,"l":60600,"c":60600,"v":160},
{"t":"2022-07-13T14:58","o":60800,"h":60800,"l":60700,"c":60700,"v":10},
{"t":"2022-07-13T14:59","o":60800,"h":60800,"l":60700,"c":60700,"v":10},
{"t":"2022-07-13T15:00","o":60800,"h":60800,"l":60700,"c":60700,"v":15},
{"t":"2022-07-13T15:01","o":60800,"h":60800,"l":60700,"c":60700,"v":20},
{"t":"2022-07-13T15:02","o":60700,"h":60800,"l":60700,"c":60800,"v":15,"vd":"d"},
{"t":"2022-07-13T15:03","o":60800,"h":60800,"l":60700,"c":60700,"v":10},
{"t":"2022-07-13T15:04","o":60800,"h":60800,"l":60700,"c":60700,"v":20},
{"t":"2022-07-13T15:05","o":60800,"h":60800,"l":60700,"c":60700,"v":15},
{"t":"2022-07-13T15:06","o":60800,"h":60800,"l":60700,"c":60700,"v":25},
{"t":"2022-07-13T15:07","o":60700,"h":60800,"l":60700,"c":60800,"v":30},
{"t":"2022-07-13T15:08","o":60700,"h":60800,"l":60700,"c":60800,"v":40},
{"t":"2022-07-13T15:09","o":60700,"h":60800,"l":60700,"c":60800,"v":40},
{"t":"2022-07-13T15:10","o":60700,"h":60800,"l":60700,"c":60800,"v":30},
{"t":"2022-07-13T15:11","o":60800,"h":60800,"l":60700,"c":60700,"v":20},
{"t":"2022-07-13T15:12","o":60800,"h":60900,"l":60800,"c":60900,"v":285,"vd":"d"},
{"t":"2022-07-13T15:13","o":60800,"h":60900,"l":60800,"c":60900,"v":50,"vd":"d"},
{"t":"2022-07-13T15:14","o":60900,"h":60900,"l":60800,"c":60800,"v":52},
{"t":"2022-07-13T15:15","o":60900,"h":60900,"l":60800,"c":60800,"v":20},
{"t":"2022-07-13T15:16","o":60900,"h":60900,"l":60700,"c":60800,"v":205},
{"t":"2022-07-13T15:17","o":60800,"h":60800,"l":60800,"c":60800,"v":15,"d":"d"},
{"t":"2022-07-13T15:18","o":60800,"h":60900,"l":60800,"c":60900,"v":210},
{"t":"2022-07-13T15:19","o":60900,"h":60900,"l":60800,"c":60800,"v":15},
{"t":"2022-07-13T15:30","o":60700,"h":60700,"l":60700,"c":60700,"v":487,"d":"d"}
],
"ev": [{"t":"2022-07-13T09:54:00","k":"3","g":"n"},{"t":"2022-07-13T10:11:12","k":"4","g":"n"},{"t":"2022-07-13T10:20:30","k":"5","g":"n"},{"t":"2022-07-13T10:36:10","k":"6","g":"n"},{"t":"2022-07-13T10:11:12","k":"공시","g":"p"}]},
"resolve": {"scale": {"x": "independent", "y": "independent"}},
"spacing": 16,
"vconcat": [
{
"width": 830, "height": 633,
"data": {"name": "c"},
"encoding": {"x": {"field": "t", "type": "temporal", "title": null,
  "scale": {"padding": 0, "domain": [{"year": 2022, "month": 7, "date": 13, "hours": 8, "minutes": 57, "seconds": 37}, {"year": 2022, "month": 7, "date": 13, "hours": 15, "minutes": 32, "seconds": 51}]},
  "axis": {"orient": "bottom", "values": [{"year": 2022, "month": 7, "date": 13, "hours": 9}, {"year": 2022, "month": 7, "date": 13, "hours": 10}, {"year": 2022, "month": 7, "date": 13, "hours": 11}, {"year": 2022, "month": 7, "date": 13, "hours": 12}, {"year": 2022, "month": 7, "date": 13, "hours": 13}, {"year": 2022, "month": 7, "date": 13, "hours": 14}, {"year": 2022, "month": 7, "date": 13, "hours": 15}], "labelExpr": "hours(datum.value) == 9 ? ['09:00', 'Jul 13, 2022'] : timeFormat(datum.value, '%H:%M')", "grid": false, "ticks": false, "domain": false, "labelPadding": 7, "labelFontSize": 12, "labelFont": "DejaVu Sans", "labelColor": "#2a3f5f", "labelLineHeight": 16, "labelFlush": false, "labelOverlap": false}}},
"layer": [
 {"mark": {"type": "bar", "size": 1.6, "opacity": 0.25},
  "encoding": {
   "y": {"field": "v", "type": "quantitative", "title": "Volume", "scale": {"domain": [0, 1582], "nice": false},
     "axis": {"orient": "right", "values": [0, 200, 400, 600, 800, 1000, 1200, 1400], "format": "d", "grid": true, "gridColor": "#9a9a9a", "gridWidth": 1.5, "ticks": false, "domain": false, "labelPadding": 3, "labelFontSize": 12, "labelFont": "DejaVu Sans", "labelColor": "#2a3f5f", "titleFont": "DejaVu Sans", "titleFontSize": 14, "titleFontWeight": "bold", "titleColor": "#2a3f5f", "titlePadding": 22, "titleAngle": 270}},
   "color": {"condition": {"test": "datum.vd ? datum.vd == 'u' : (datum.c > datum.o || (datum.c == datum.o && datum.d == 'u'))", "value": "#ff0000"}, "value": "#0000ff"}}},
 {"layer": [
   {"mark": {"type": "rule", "strokeWidth": 1.5},
    "encoding": {
     "y": {"field": "l", "type": "quantitative", "title": "Price", "scale": {"domain": [58362, 62949], "nice": false, "zero": false},
       "axis": {"orient": "left", "values": [58500, 59000, 59500, 60000, 60500, 61000, 61500, 62000, 62500], "format": "~s", "grid": true, "gridColor": "#ffffff", "gridWidth": 1.2, "ticks": false, "domain": false, "labelPadding": 2, "labelFontSize": 12, "labelFont": "DejaVu Sans", "labelColor": "#2a3f5f", "titleFont": "DejaVu Sans", "titleFontSize": 14, "titleFontWeight": "bold", "titleColor": "#2a3f5f", "titlePadding": 20}},
     "y2": {"field": "h"},
     "color": {"condition": {"test": "datum.c > datum.o || (datum.c == datum.o && datum.d == 'u')", "value": "#ff0000"}, "value": "#0000ff"}}},
   {"mark": {"type": "bar", "size": 1.8, "strokeWidth": 1.1},
    "encoding": {
     "y": {"field": "o", "type": "quantitative", "title": "Price", "scale": {"domain": [58362, 62949], "nice": false, "zero": false}},
     "y2": {"field": "c"},
     "color": {"condition": {"test": "datum.c > datum.o || (datum.c == datum.o && datum.d == 'u')", "value": "#ff0000"}, "value": "#0000ff"},
     "stroke": {"condition": {"test": "datum.c > datum.o || (datum.c == datum.o && datum.d == 'u')", "value": "#ff0000"}, "value": "#0000ff"}}}
 ]},
 {"data": {"name": "ev"},
  "layer": [
   {"mark": {"type": "rule", "strokeWidth": 1.2},
    "encoding": {"color": {"condition": {"test": "datum.g == 'p'", "value": "rgba(46,139,87,0.7)"}, "value": "rgba(65,105,225,0.45)"}}},
   {"transform": [{"filter": "datum.g == 'n'"}],
    "mark": {"type": "text", "fontSize": 12, "font": "DejaVu Sans", "color": "#2a3f5f", "baseline": "middle", "dy": 1},
    "encoding": {"y": {"value": 0}, "text": {"field": "k"}}},
   {"transform": [{"filter": "datum.g == 'p'"}],
    "mark": {"type": "text", "fontSize": 12, "font": "DejaVu Sans, Noto Sans CJK KR", "color": "#2a3f5f", "baseline": "middle", "dy": -6},
    "encoding": {"y": {"value": 0}, "text": {"field": "k"}}}
  ]}
],
"resolve": {"scale": {"y": "independent"}}
},
{
"width": 830, "height": 120,
"data": {"name": "c"},
"encoding": {"x": {"field": "t", "type": "temporal", "title": null, "axis": null,
  "scale": {"padding": 0, "domain": [{"year": 2022, "month": 7, "date": 13, "hours": 8, "minutes": 57, "seconds": 37}, {"year": 2022, "month": 7, "date": 13, "hours": 15, "minutes": 32, "seconds": 51}]}}},
"layer": [
 {"mark": {"type": "bar", "size": 1.4, "opacity": 0.25},
  "encoding": {
   "y": {"field": "v", "type": "quantitative", "scale": {"domain": [0, 1582], "nice": false}, "axis": null},
   "color": {"condition": {"test": "datum.vd ? datum.vd == 'u' : (datum.c > datum.o || (datum.c == datum.o && datum.d == 'u'))", "value": "#ff0000"}, "value": "#0000ff"}}},
 {"layer": [
   {"mark": {"type": "rule", "strokeWidth": 1},
    "encoding": {
     "y": {"field": "l", "type": "quantitative", "scale": {"domain": [58362, 62949], "nice": false, "zero": false}, "axis": null},
     "y2": {"field": "h"},
     "color": {"condition": {"test": "datum.c > datum.o || (datum.c == datum.o && datum.d == 'u')", "value": "#ff0000"}, "value": "#0000ff"}}},
   {"mark": {"type": "bar", "size": 1.8, "strokeWidth": 1},
    "encoding": {
     "y": {"field": "o", "type": "quantitative", "scale": {"domain": [58362, 62949], "nice": false, "zero": false}, "axis": null},
     "y2": {"field": "c"},
     "color": {"condition": {"test": "datum.c > datum.o || (datum.c == datum.o && datum.d == 'u')", "value": "#ff0000"}, "value": "#0000ff"},
     "stroke": {"condition": {"test": "datum.c > datum.o || (datum.c == datum.o && datum.d == 'u')", "value": "#ff0000"}, "value": "#0000ff"}}}
 ]},
 {"mark": {"type": "bar", "size": 4, "color": "#ffffff", "stroke": "#444444", "strokeWidth": 1},
  "encoding": {"x": {"datum": {"year": 2022, "month": 7, "date": 13, "hours": 8, "minutes": 59, "seconds": 31}, "type": "temporal"}, "y": {"value": 30}, "y2": {"value": 90}}},
 {"mark": {"type": "bar", "size": 4, "color": "#ffffff", "stroke": "#444444", "strokeWidth": 1},
  "encoding": {"x": {"datum": {"year": 2022, "month": 7, "date": 13, "hours": 15, "minutes": 30, "seconds": 57}, "type": "temporal"}, "y": {"value": 30}, "y2": {"value": 90}}}
],
"resolve": {"scale": {"y": "independent"}}
}
]
}
